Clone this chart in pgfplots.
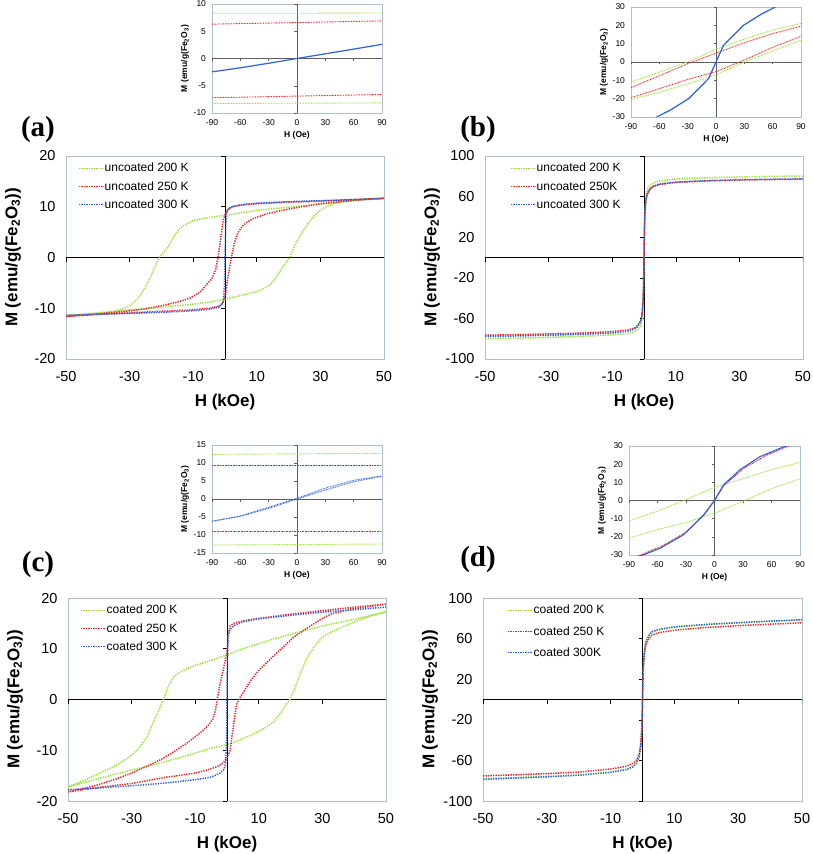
\documentclass[border=0pt]{standalone}
\usepackage{pgfplots}
\pgfplotsset{compat=1.18}
\usepackage{fontspec}
\setmainfont{Liberation Sans}
\newfontfamily\serifb{Liberation Serif}

\definecolor{cgreen}{RGB}{150,228,50}
\definecolor{cred}{RGB}{235,35,35}
\definecolor{cblue}{RGB}{45,95,230}
\definecolor{framec}{RGB}{172,192,208}
\definecolor{zgray}{RGB}{95,95,95}

\pgfplotsset{
  dotl/.style={line width=1.5pt, dash pattern=on 1.3pt off 1.2pt},
  thindot/.style={line width=0.9pt, dash pattern=on 0.8pt off 0.8pt},
  mainax/.style={
    scale only axis, width=318pt, height=203pt,
    xmin=-50, xmax=50,
    axis line style={draw=framec, line width=0.8pt},
    major tick length=0pt,
    xtick={-50,-30,-10,10,30,50},
    tick label style={font=\fontsize{14.5}{16}\selectfont},
    /pgf/number format/assume math mode=true,
    yticklabel style={xshift=-7pt},
    xticklabel style={yshift=-9pt},
    xlabel={H (kOe)},
    ylabel={M (emu/g(Fe\textsubscript{2}O\textsubscript{3}))},
    label style={font=\fontsize{17}{19}\selectfont\bfseries},
    xlabel style={at={([yshift=-43pt]axis description cs:0.5,0)}, anchor=center},
    ylabel style={at={([xshift=-53pt]axis description cs:0,0.5)}, anchor=center},
    legend style={at={(axis description cs:0,1)}, anchor=north west, xshift=9pt, yshift=-2pt,
      draw=none, fill=none, font=\fontsize{12}{14}\selectfont,
      nodes={inner xsep=1pt, inner ysep=3pt}, row sep=2pt},
    legend cell align=left,
    legend image code/.code={\draw[##1] (0pt,0pt) -- (24pt,0pt);},
    no marks,
  },
  insetax/.style={
    scale only axis, width=170pt, height=109pt,
    xmin=-90, xmax=90,
    axis line style={draw=framec, line width=0.6pt},
    major tick length=0pt,
    xtick={-90,-60,-30,0,30,60,90},
    tick label style={font=\fontsize{8.5}{9.5}\selectfont},
    /pgf/number format/assume math mode=true,
    yticklabel style={xshift=-2.5pt},
    xticklabel style={yshift=-3pt},
    xlabel={H (Oe)},
    ylabel={M (emu/g(Fe\textsubscript{2}O\textsubscript{3})},
    label style={font=\fontsize{8.5}{10}\selectfont\bfseries},
    xlabel style={at={([yshift=-22pt]axis description cs:0.5,0)}, anchor=center},
    ylabel style={at={([xshift=-27pt]axis description cs:0,0.5)}, anchor=center},
    no marks,
  },
}

\newcommand{\mainzero}[3]{% ymin, ymax, ytick list
  \draw[black, line width=0.9pt] (axis cs:-50,0) -- (axis cs:50,0);
  \draw[black, line width=0.9pt] (axis cs:0,#1) -- (axis cs:0,#2);
  \pgfplotsinvokeforeach{-50,-30,-10,10,30,50}{\draw[black, line width=0.6pt] (axis cs:##1,0) -- ([yshift=-4pt]axis cs:##1,0);}
  \pgfplotsinvokeforeach{#3}{\draw[black, line width=0.6pt] (axis cs:0,##1) -- ([xshift=-4pt]axis cs:0,##1);}
}
\newcommand{\insetzero}[3]{%
  \draw[zgray, line width=0.8pt] (axis cs:-90,0) -- (axis cs:90,0);
  \draw[zgray, line width=0.8pt] (axis cs:0,#1) -- (axis cs:0,#2);
  \pgfplotsinvokeforeach{-90,-60,-30,30,60,90}{\draw[zgray, line width=0.5pt] (axis cs:##1,0) -- ([yshift=-2.5pt]axis cs:##1,0);}
  \pgfplotsinvokeforeach{#3}{\draw[zgray, line width=0.5pt] (axis cs:0,##1) -- ([xshift=-2.5pt]axis cs:0,##1);}
}

\begin{document}
\begin{tikzpicture}
\fill[white] (0,0) rectangle (813pt,-854pt);
\useasboundingbox (0,0) rectangle (813pt,-854pt);

% ---------------- (a) main ----------------
\begin{axis}[mainax, at={(66pt,-156pt)}, anchor=north west,
  ymin=-20, ymax=20, ytick={-20,-10,0,10,20}]
\mainzero{-20}{20}{-20,-10,10,20}
\addplot[cgreen, dotl] coordinates {(50,11.7) (40,11.3) (30,10.5) (20,9.9) (10,9.3) (5,8.8) (0,8.3) (-5,7.9) (-10,7.3) (-13,6.3) (-14.5,5.6) (-16,4.2) (-18,2) (-20.7,0) (-22.5,-2.5) (-24,-4.6) (-25.7,-6.5) (-27.5,-8.2) (-30,-9.5) (-33,-10.3) (-36,-10.7) (-40,-11) (-45,-11.2) (-50,-11.4)
 (-45,-11.2) (-40,-10.9) (-35,-10.6) (-30,-10.3) (-25,-10.1) (-20,-9.8) (-13,-9.4) (-5,-8.8) (0,-8.2) (5,-7.5) (11,-6.5) (14,-5.5) (16,-4) (18,-2) (20.4,0) (22,2.5) (24,4.7) (26,6.6) (28,8.2) (30,9.3) (32,10.1) (35,10.8) (40,11.2) (45,11.5) (50,11.7)};
\addlegendentry{uncoated 200 K}
\addplot[cred, dotl] coordinates {(50,11.7) (40,11.4) (30,11.1) (20,10.9) (10,10.6) (5,10.3) (3,10.1) (1.5,9.7) (0.5,9.2) (-0.5,7.5) (-1.2,4.5) (-2.2,0) (-3,-2.5) (-4,-4) (-5.7,-5.3) (-8,-6.9) (-11,-8) (-15,-8.8) (-20,-9.5) (-25,-10.1) (-30,-10.5) (-40,-11.1) (-50,-11.6)
 (-40,-11.2) (-30,-10.9) (-20,-10.6) (-10,-10.3) (-5,-10) (-2,-9.6) (-0.7,-9) (0.2,-7) (1,-3.5) (2,0) (3,3) (4,4.8) (5.5,6.2) (7,7) (9,7.7) (13,8.6) (18,9.3) (24,10) (30,10.6) (40,11.2) (50,11.7)};
\addlegendentry{uncoated 250 K}
\addplot[cblue, dotl] coordinates {(-50,-11.4) (-40,-11.2) (-30,-11) (-20,-10.8) (-10,-10.5) (-5,-10.2) (-2,-9.8) (-1,-9.3) (-0.5,-8.6) (-0.2,-5.5) (-0.1,-2.8) (0,0) (0.1,2.8) (0.2,5.5) (0.5,8.8) (1,9.5) (2,10) (5,10.4) (10,10.7) (20,11) (30,11.2) (40,11.4) (50,11.6)};
\addlegendentry{uncoated 300 K}
\end{axis}

% ---------------- (a) inset ----------------
\begin{axis}[insetax, at={(212pt,-4pt)}, anchor=north west, width=170pt, height=109pt,
  ymin=-10, ymax=10, ytick={-10,-5,0,5,10}]
\insetzero{-10}{10}{-10,-5,5,10}
\addplot[cgreen, thindot] coordinates {(-90,8.3) (0,8.3) (90,8.35)};
\addplot[cgreen, thindot] coordinates {(-90,-8.25) (0,-8.2) (90,-8.15)};
\addplot[cred, thindot] coordinates {(-90,6.3) (0,6.6) (90,6.9)};
\addplot[cred, thindot] coordinates {(-90,-7.2) (0,-6.9) (90,-6.6)};
\addplot[cblue, line width=1.2pt] coordinates {(-90,-2.45) (-60,-1.7) (-30,-0.87) (0,0) (30,0.87) (60,1.72) (90,2.6)};
\end{axis}

% ---------------- (b) main ----------------
\begin{axis}[mainax, at={(485pt,-156pt)}, anchor=north west,
  ymin=-100, ymax=100, ytick={-100,-60,-20,20,60,100},
  legend style={xshift=13pt}]
\mainzero{-100}{100}{-100,-60,-20,20,60,100}
\addplot[cgreen, dotl] coordinates {(-50,-80) (-40,-79.5) (-30,-78.7) (-20,-77.7) (-10,-76.2) (-5,-74.8) (-3,-73) (-2,-71) (-1,-66.5) (-0.6,-60) (-0.3,-46) (-0.1,-25) (0,0) (0.1,25) (0.3,46) (0.6,60) (1,66.5) (2,71) (3,73.5) (5,75.5) (10,77.3) (20,78.7) (30,79.4) (40,79.9) (50,80.3)};
\addlegendentry{uncoated 200 K}
\addplot[cred, dotl] coordinates {(-50,-76.6) (-40,-76) (-30,-75.3) (-20,-74.5) (-10,-73) (-5,-71.3) (-3,-69.5) (-2,-67) (-1,-62) (-0.6,-56) (-0.3,-42) (-0.1,-22) (0,0) (0.1,22) (0.3,42) (0.6,56) (1,62) (2,67.5) (3,70) (5,72) (10,74) (20,75.5) (30,76.3) (40,76.8) (50,77.2)};
\addlegendentry{uncoated 250K}
\addplot[cblue, dotl] coordinates {(-50,-77.8) (-40,-77.3) (-30,-76.6) (-20,-75.7) (-10,-74.3) (-5,-72.5) (-3,-70.5) (-2,-68) (-1,-63) (-0.6,-57) (-0.3,-44) (-0.1,-26) (0,0) (0.1,26) (0.3,44) (0.6,57) (1,63) (2,68) (3,70.5) (5,72.5) (10,74.3) (20,75.8) (30,76.6) (40,77.1) (50,77.5)};
\addlegendentry{uncoated 300 K}
\end{axis}

% ---------------- (b) inset ----------------
\begin{axis}[insetax, at={(631pt,-7pt)}, anchor=north west, width=170pt, height=110pt,
  ymin=-30, ymax=30, ytick={-30,-20,-10,0,10,20,30}]
\insetzero{-30}{30}{-30,-20,-10,10,20,30}
\addplot[cgreen, thindot] coordinates {(-90,-11) (-60,-5.5) (-30,0) (0,6.9) (30,12.5) (60,17.5) (90,21)};
\addplot[cgreen, thindot] coordinates {(-90,-20.5) (-60,-16.5) (-30,-12) (0,-7) (30,0) (60,6) (90,12)};
\addplot[cred, thindot] coordinates {(-90,-14) (-60,-7.5) (-25.5,0) (0,4.8) (30,10.5) (60,15.5) (90,19.5)};
\addplot[cred, thindot] coordinates {(-90,-19.5) (-60,-14.5) (-30,-9.5) (0,-5.3) (25,0) (60,8) (90,14)};
\addplot[cblue, line width=1.2pt] coordinates {(-90,-37) (-62.8,-30) (-48.6,-26.3) (-29,-20) (-7.8,-9) (0,0) (7.8,9) (29,20) (48.6,26.3) (62.8,30) (90,37)};
\end{axis}

% ---------------- (c) main ----------------
\begin{axis}[mainax, at={(68pt,-598pt)}, anchor=north west,
  ymin=-20, ymax=20, ytick={-20,-10,0,10,20}]
\mainzero{-20}{20}{-20,-10,10,20}
\addplot[cgreen, dotl] coordinates {(50,17.3) (40,15.8) (30,14.5) (25,13.7) (15,12) (5,10) (0,8.8) (-5,7.7) (-10,6.7) (-12.6,6.1) (-15,5.3) (-17,4.3) (-18.5,2.5) (-20,0) (-21.5,-2.2) (-23,-4.2) (-25,-7.2) (-28,-9.8) (-31,-11.5) (-35,-13) (-40,-14.5) (-45,-16) (-50,-17.2)
 (-45,-16.4) (-40,-15.5) (-35,-14.7) (-30,-13.9) (-24,-13) (-15,-11.5) (-5,-9.6) (0,-8.9) (2,-8.5) (8,-6.9) (12,-5.6) (14.5,-4.5) (16.5,-3) (18,-1.5) (19.8,0) (21.5,2.5) (23,5) (25,8) (27.5,10.5) (30,12.3) (33.4,13.5) (40,15.3) (45,16.4) (50,17.3)};
\addlegendentry{coated 200 K}
\addplot[cred, dotl] coordinates {(50,18.8) (40,18.2) (30,17.5) (20,16.8) (10,16) (5,15.5) (2,15) (1,14.5) (0.3,12.5) (0,9.2) (-0.8,7) (-1.5,5) (-2.2,3) (-3,0.3) (-3.6,-2) (-4.4,-3.8) (-6,-5.2) (-8.5,-6.6) (-12.6,-8.6) (-17,-10.4) (-21,-11.9) (-25,-13.1) (-30,-14.5) (-34.6,-15.6) (-40,-16.7) (-45,-17.5) (-50,-18.2)
 (-40,-17.3) (-29.5,-16.5) (-20,-15.4) (-10,-14.5) (-6.3,-13.9) (-3,-13.2) (-1.2,-12.5) (0,-11.5) (1,-10) (1.5,-7.5) (2,-5.4) (2.5,-3) (3,-1) (4,0.3) (5.5,1.8) (7.5,3.8) (10.4,6) (14,8.2) (17.6,10.3) (21,12.3) (25,14) (30,16) (33,16.9) (40,17.9) (50,18.8)};
\addlegendentry{coated 250 K}
\addplot[cblue, dotl] coordinates {(-50,-17.8) (-40,-17.4) (-30,-17) (-20,-16.5) (-10,-15.8) (-5,-15.3) (-2.2,-14.5) (-1,-13.8) (-0.5,-12.8) (-0.2,-9.5) (-0.09,-6.3) (0,0) (0.09,6.3) (0.2,9.5) (0.5,12.8) (1,13.8) (2.2,14.6) (5,15.3) (10,15.9) (20,16.6) (30,17.2) (40,17.7) (50,18.2)};
\addlegendentry{coated 300 K}
\end{axis}

% ---------------- (c) inset ----------------
\begin{axis}[insetax, at={(212pt,-445pt)}, anchor=north west, width=170pt, height=108pt,
  ymin=-15, ymax=15, ytick={-15,-10,-5,0,5,10,15}]
\insetzero{-15}{15}{-15,-10,-5,5,10,15}
\addplot[cgreen, thindot] coordinates {(-90,12.4) (0,12.55) (90,12.7)};
\addplot[cgreen, thindot] coordinates {(-90,-12.8) (0,-12.65) (90,-12.5)};
\addplot[cred, thindot] coordinates {(-90,9.2) (0,9.2) (90,9.2)};
\addplot[cred, thindot] coordinates {(-90,-8.95) (0,-8.95) (90,-8.95)};
\addplot[cblue, thindot] coordinates {(-90,-6.2) (-60,-4.8) (-30,-2.6) (0,0) (30,2.5) (60,4.8) (90,6.3)};
\addplot[cblue, thindot] coordinates {(-90,-6.2) (-60,-4.7) (-30,-2.3) (0,0.2) (30,3) (60,5.2) (90,6.4)};
\end{axis}

% ---------------- (d) main ----------------
\begin{axis}[mainax, at={(483pt,-598pt)}, anchor=north west, width=319pt,
  ymin=-100, ymax=100, ytick={-100,-60,-20,20,60,100},
  legend style={xshift=12pt, row sep=5pt}]
\mainzero{-100}{100}{-100,-60,-20,20,60,100}
\addplot[cgreen, dotl] coordinates {(-50,-78) (-40,-77) (-30,-75.8) (-20,-74.3) (-10,-71.5) (-5,-68.8) (-3,-66) (-2,-63) (-1,-56) (-0.5,-45) (-0.2,-28) (0,0) (0.2,28) (0.5,45) (1,56) (2,63) (3,66.5) (5,68.8) (10,71.3) (20,73.8) (30,75.5) (40,77) (50,78.3)};
\addlegendentry{coated 200 K}
\addplot[cred, dotl] coordinates {(-50,-75.3) (-40,-74.2) (-30,-73) (-20,-71.5) (-10,-68.5) (-5,-65.8) (-3,-63) (-2,-60) (-1,-53) (-0.5,-42) (-0.2,-26) (0,0) (0.2,26) (0.5,42) (1,53) (2,60) (3,63.5) (5,65.8) (10,68.3) (20,71) (30,72.7) (40,74.2) (50,75.6)};
\addlegendentry{coated 250 K}
\addplot[cblue, dotl] coordinates {(-50,-78.7) (-40,-77.4) (-30,-76.1) (-20,-74.6) (-10,-71.8) (-5,-69) (-3,-66.3) (-2,-63.3) (-1,-56.3) (-0.5,-45) (-0.2,-28) (0,0) (0.2,28) (0.5,45) (1,56.3) (2,63.3) (3,66.8) (5,69) (10,71.6) (20,74) (30,75.7) (40,77.2) (50,78.6)};
\addlegendentry{coated 300K}
\end{axis}

% ---------------- (d) inset ----------------
\begin{axis}[insetax, at={(629pt,-446pt)}, anchor=north west, width=171pt, height=109pt,
  ymin=-30, ymax=30, ytick={-30,-20,-10,0,10,20,30}]
\insetzero{-30}{30}{-30,-20,-10,10,20,30}
\addplot[cgreen, thindot] coordinates {(-90,-11.2) (-60,-5.8) (-32,0) (0,7.2) (30,12) (60,17) (90,21)};
\addplot[cgreen, thindot] coordinates {(-90,-20.7) (-60,-16) (-30,-12) (0,-7) (31.8,0) (60,6.5) (90,12)};
\addplot[cred, thindot, line width=1.1pt] coordinates {(-90,-33) (-78,-30) (-55,-25) (-30,-17.5) (-10,-7.5) (0,0) (10,8.3) (30,17.5) (55,25) (78,30) (90,33)};
\addplot[cblue, line width=1.1pt] coordinates {(-90,-32) (-75,-30) (-57,-26.2) (-33,-19) (-11.6,-8) (0,0) (9.5,8.6) (27,17) (48,24.2) (75,30) (90,32)};
\end{axis}

% panel letters
\node[font=\serifb\bfseries\fontsize{29}{32}\selectfont] at (38pt,-130pt) {(a)};
\node[font=\serifb\bfseries\fontsize{29}{32}\selectfont] at (478pt,-130pt) {(b)};
\node[font=\serifb\bfseries\fontsize{29}{32}\selectfont] at (38pt,-565pt) {(c)};
\node[font=\serifb\bfseries\fontsize{29}{32}\selectfont] at (478pt,-560pt) {(d)};
\end{tikzpicture}
\end{document}
